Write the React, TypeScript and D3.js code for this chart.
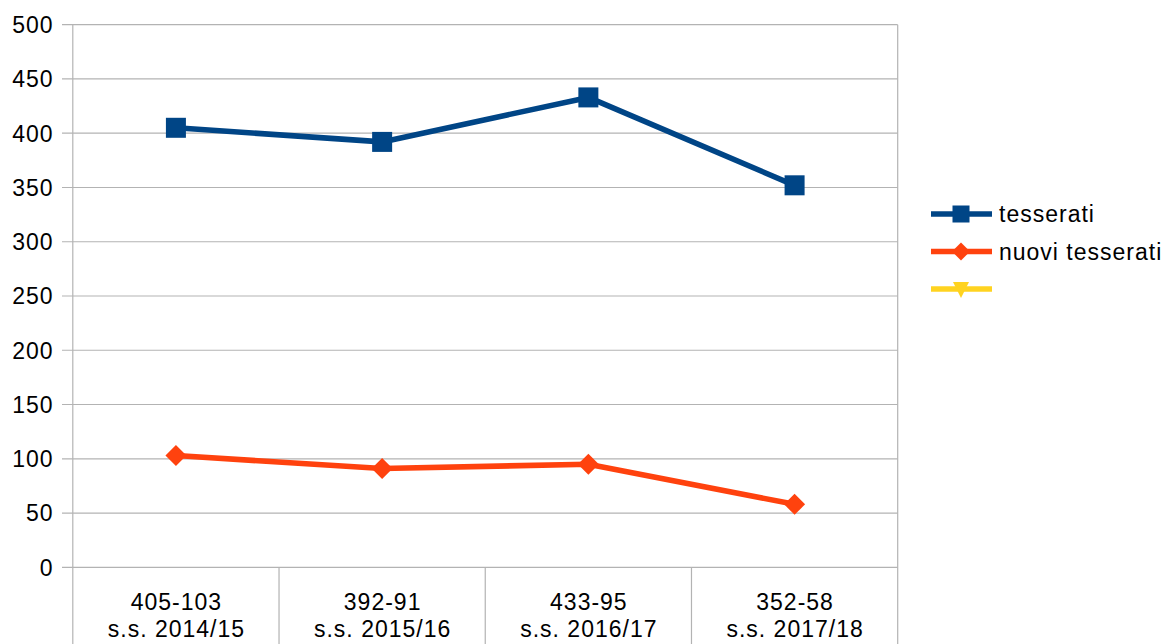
import React from "react";
import * as d3 from "d3";

const categories = ["405-103\ns.s. 2014/15", "392-91\ns.s. 2015/16", "433-95\ns.s. 2016/17", "352-58\ns.s. 2017/18"];
const tesserati = [405, 392, 433, 352];
const nuoviTesserati = [103, 91, 95, 58];
const yTicks = [0, 50, 100, 150, 200, 250, 300, 350, 400, 450, 500];
const legendLabels = ["tesserati", "nuovi tesserati", ""];

const W = 1168, H = 644;
const left = 72.8, right = 897.7, top = 24.7, bottom = 567.3;
const FONT = "'Liberation Sans', Arial, sans-serif";
const FS = 23;
const LS = "1px";
const BLUE = "#004586", ORANGE = "#ff420e", YELLOW = "#ffd320";
const GRID = "#b3b3b3";

export default function App() {
  const x = d3.scaleBand<string>().domain(categories).range([left, right]).padding(0);
  const y = d3.scaleLinear().domain([0, 500]).range([bottom, top]);
  const cx = (i: number) => (x(categories[i]) as number) + x.bandwidth() / 2;
  const line = d3.line<number>().x((_, i) => cx(i)).y((d) => y(d));
  const diamond = (px: number, py: number, r: number) =>
    `M${px},${py - r}L${px + r},${py}L${px},${py + r}L${px - r},${py}Z`;

  const legendY = [214, 251.5, 289];
  const legendColors = [BLUE, ORANGE, YELLOW];

  return (
    <svg width={W} height={H} style={{ position: "absolute", left: 0, top: 0, background: "#fff" }} fontFamily={FONT}>
      {yTicks.map((t) => (
        <g key={t}>
          <line x1={62} x2={right} y1={y(t)} y2={y(t)} stroke={GRID} strokeWidth={1.2} />
          <text x={53.5} y={y(t)} dy="0.36em" textAnchor="end" fontSize={FS} letterSpacing={LS} fill="#000">{t}</text>
        </g>
      ))}
      {[...categories.map((c) => x(c) as number), right].map((vx, i) => (
        <line key={"vb" + i} x1={vx} x2={vx} y1={i === 0 || i === categories.length ? top : bottom} y2={H}
          stroke={GRID} strokeWidth={1.2} />
      ))}
      {categories.map((c, i) => {
        const lines = c.split("\n");
        return (
          <text key={"c" + i} x={cx(i)} textAnchor="middle" fontSize={FS} letterSpacing={LS} fill="#000">
            {lines.map((l, j) => (
              <tspan key={j} x={cx(i) + 0.5} y={609.5 + j * 27.5}>{l}</tspan>
            ))}
          </text>
        );
      })}
      <path d={line(tesserati) as string} fill="none" stroke={BLUE} strokeWidth={5.6} strokeLinejoin="round" />
      {tesserati.map((v, i) => (
        <rect key={"s" + i} x={cx(i) - 10} y={y(v) - 10} width={20} height={20} fill={BLUE} />
      ))}
      <path d={line(nuoviTesserati) as string} fill="none" stroke={ORANGE} strokeWidth={5.6} strokeLinejoin="round" />
      {nuoviTesserati.map((v, i) => (
        <path key={"d" + i} d={diamond(cx(i), y(v), 10.5)} fill={ORANGE} />
      ))}
      {legendLabels.map((l, i) => (
        <g key={"l" + i}>
          <line x1={931} x2={992} y1={legendY[i]} y2={legendY[i]} stroke={legendColors[i]} strokeWidth={5.6} />
          {i === 0 && <rect x={952.5} y={legendY[i] - 8.5} width={17} height={17} fill={BLUE} />}
          {i === 1 && <path d={diamond(961, legendY[i], 9)} fill={ORANGE} />}
          {i === 2 && <path d={`M953,${legendY[i] - 7}L969,${legendY[i] - 7}L961,${legendY[i] + 9}Z`} fill={YELLOW} />}
          <text x={999} y={legendY[i]} dy="0.36em" fontSize={FS} letterSpacing={LS} fill="#000">{l}</text>
        </g>
      ))}
    </svg>
  );
}
